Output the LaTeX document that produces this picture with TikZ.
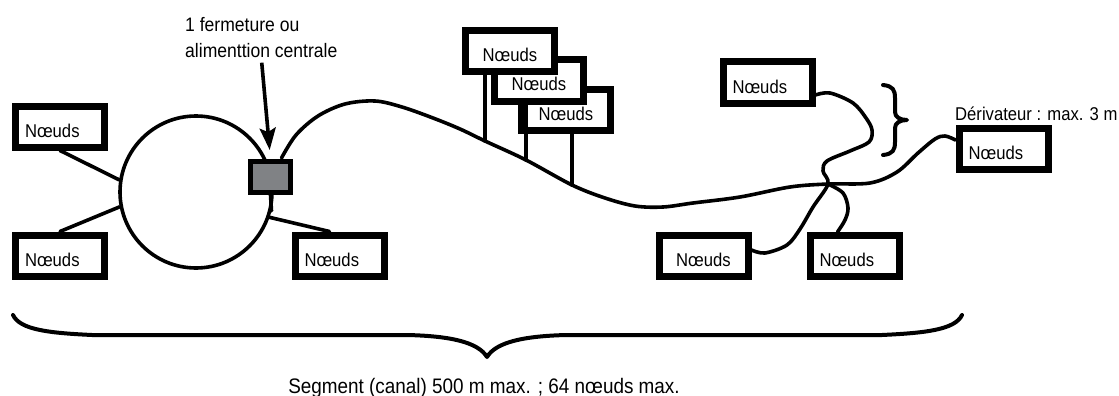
\documentclass[tikz,border=0pt]{standalone}
\usepackage{fontspec}
\setmainfont{Liberation Sans}[FakeStretch=0.9]
\usetikzlibrary{arrows.meta,calc}
\definecolor{boxgray}{RGB}{128,130,133}
\begin{document}
\begin{tikzpicture}[x=1pt,y=-1pt,
  wire/.style={line width=3.6pt, line join=round, line cap=round},
  nd/.style={draw, line width=7pt, fill=white, minimum width=89pt, minimum height=41pt,
    inner sep=0pt, text width=70pt, align=left, text height=21pt, text depth=0pt,
    font=\fontsize{18.5}{20}\selectfont},
  lbl/.style={inner sep=0pt, font=\fontsize{18.5}{26}\selectfont},
  bracestyle/.style={line width=4pt, line join=round, line cap=round}]
\useasboundingbox (0,0) rectangle (1119,396);

% ring and central closure
\node[circle, draw, line width=3.6pt, minimum size=152pt, inner sep=0pt] (ring) at (196,192) {};
\node[draw, line width=5pt, fill=boxgray, minimum width=40pt, minimum height=31pt, inner sep=0pt] (gb) at (270.5,177) {};

% nodes
\node[nd] (n1) at (60,126.5) {Nœuds};
\node[nd] (n2) at (60,255.5) {Nœuds};
\node[nd] (n3) at (339.5,255.5) {Nœuds};
\node[nd, align=center] (nc) at (566,110) {Nœuds};
\node[nd, align=center] (nb) at (539,80.5) {Nœuds};
\node[nd, align=center] (na) at (510,51) {Nœuds};
\node[nd] (E) at (767.5,82.5) {Nœuds};
\node[nd, align=center] (F) at (703.5,256) {Nœuds};
\node[nd] (G) at (854.5,256) {Nœuds};
\node[nd] (D) at (1003.5,148.5) {Nœuds};

% labels
\node[lbl, align=left, anchor=north west, font=\fontsize{19.5}{26}\selectfont] (lab) at (185,17) {1 fermeture ou\\alimenttion centrale};
\node[lbl, anchor=base west] (der) at (955,120) {Dérivateur : max. 3 m};
\node[lbl, anchor=base, font=\fontsize{21}{24}\selectfont] (seg) at (484,393) {Segment (canal) 500 m max. ; 64 nœuds max.};

% coordinates on the cable
\coordinate (c0) at ($(gb.north)+(11,-1)$);
\coordinate (sA) at (485,141);
\coordinate (sB) at (526,160);
\coordinate (sC) at (572,185);
\coordinate (X) at (828,184);
\coordinate (Din) at ([yshift=8.5pt]D.west);
\coordinate (Eout) at ([yshift=-12.5pt]E.east);
\coordinate (Fin) at ([yshift=6pt]F.east);
\coordinate (Gin) at ([xshift=-17pt]G.north);

% drop lines on the ring
\draw[wire] (n1.south) -- (ring.171);
\draw[wire] (n2.north) -- (ring.191);
\draw[wire] ([xshift=-10pt]n3.north) -- (ring.341);
\draw[wire] (gb.south) -- (ring.346);

% main cable
\draw[wire] plot[smooth, tension=0.55] coordinates {(c0) (296,135) (318,116) (345,104) (375,101) (402,107) (433,118) (460,129) (sA) (sB) (sC) (605,198) (635,206) (663,207) (693,203) (740,197) (790,187) (X) (870,183) (897,172) (918,153) (935,139) (945,136) (Din)};

% stems of stacked nodes
\draw[wire] (sA |- na.south) -- (sA);
\draw[wire] (sB |- nb.south) -- (sB);
\draw[wire] (sC |- nc.south) -- (sC);

% branch wires
\draw[wire] plot[smooth, tension=0.55] coordinates {(Eout) (830,93) (853,103) (866,118) (872,130) (869,142) (850,151) (827,161) (823,171) (X) (813,207) (800,229) (787,245) (765,253) (Fin)};
\draw[wire] plot[smooth, tension=0.55] coordinates {(X) (843,193) (848,208) (845,220) (Gin)};

% arrow to closure
\draw[line width=3.6pt, shorten <=5pt, shorten >=9pt, -{Stealth[length=22pt,width=16pt,inset=4pt]}] (lab.south) -- (gb.north);

% small brace
\draw[bracestyle] (883,85) .. controls (893,86) and (895,90) .. (895,98) -- (895,112)
  .. controls (895,117) and (900,120) .. (907,120)
  .. controls (900,120) and (895,123) .. (895,128) -- (895,142)
  .. controls (895,150) and (893,154) .. (883,155);

% big brace
\draw[bracestyle] (13,315) .. controls (20,330) and (50,333) .. (92,335) -- (407,335)
  .. controls (450,336) and (478,342) .. (487,357)
  .. controls (496,342) and (524,336) .. (567,335) -- (882,335)
  .. controls (924,333) and (955,330) .. (962,315);
\end{tikzpicture}
\end{document}
